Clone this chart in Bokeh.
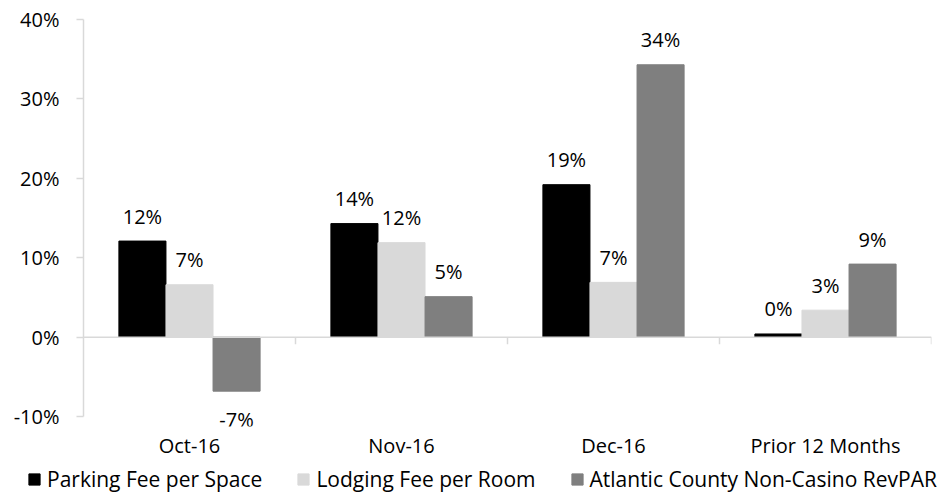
from bokeh.plotting import figure
from bokeh.layouts import column
from bokeh.models import (FactorRange, Range1d, FixedTicker, PrintfTickFormatter,
                          ColumnDataSource, Span, Legend, LegendItem)
from bokeh.transform import dodge
from bokeh.core.properties import value
from bokeh.embed import file_html
from bokeh.resources import INLINE

categories = ["Oct-16", "Nov-16", "Dec-16", "Prior 12 Months"]
series_names = ["Parking Fee per Space", "Lodging Fee per Room",
                "Atlantic County Non-Casino RevPAR"]
parking = [12.1, 14.3, 19.2, 0.4]
lodging = [6.6, 11.9, 6.9, 3.4]
revpar = [-6.8, 5.1, 34.3, 9.2]
y_ticks = [-10, 0, 10, 20, 30, 40]

FONT = "Open Sans"
colors = ["#000000", "#d9d9d9", "#7f7f7f"]
bar_w = 0.222
offsets = [-bar_w, 0.0, bar_w]

p = figure(x_range=FactorRange(*categories), y_range=Range1d(-11.25, 40),
           width=939, height=461, output_backend="svg", toolbar_location=None,
           min_border_left=83, min_border_top=19, min_border_right=8,
           min_border_bottom=32)
p.frame_align = False
p.outline_line_color = None
p.xgrid.visible = False
p.ygrid.visible = False

zero = Span(location=0, dimension="width", line_color="#d9d9d9", line_width=1.5)
p.add_layout(zero)

tick_src = ColumnDataSource(dict(x=categories))
p.segment(x0=dodge("x", 0.5, range=p.x_range), x1=dodge("x", 0.5, range=p.x_range),
          y0=0, y1=-0.9, source=tick_src, line_color="#d9d9d9", line_width=1.5)

sources = []
for name, vals, col, off in zip(series_names, [parking, lodging, revpar], colors, offsets):
    src = ColumnDataSource(dict(x=categories, top=vals))
    sources.append(src)
    p.vbar(x=dodge("x", off, range=p.x_range), top="top", bottom=0, width=bar_w,
           source=src, fill_color=col, line_color=col)
    pos = [(c, v) for c, v in zip(categories, vals) if v >= 0]
    neg = [(c, v) for c, v in zip(categories, vals) if v < 0]
    for group, yoff in ((pos, -25), (neg, 28)):
        if not group:
            continue
        lsrc = ColumnDataSource(dict(
            x=[c for c, _ in group], y=[v for _, v in group],
            label=[f"{round(v)}%" for _, v in group]))
        p.text(x=dodge("x", off, range=p.x_range), y="y", text="label", source=lsrc,
               text_align="center", text_baseline="alphabetic", y_offset=yoff,
               text_font=value(FONT), text_font_size="20px", text_color="#000000")

# y axis
ya = p.yaxis[0]
ya.ticker = FixedTicker(ticks=y_ticks)
ya.formatter = PrintfTickFormatter(format="%d%%")
ya.bounds = (y_ticks[0], y_ticks[-1])
ya.axis_line_color = "#d9d9d9"
ya.axis_line_width = 1.5
ya.major_tick_line_color = "#d9d9d9"
ya.major_tick_line_width = 1.5
ya.major_tick_out = 7
ya.major_tick_in = 0
ya.minor_tick_line_color = None
ya.major_label_standoff = 17
ya.major_label_text_font = FONT
ya.major_label_text_font_size = "20px"
ya.major_label_text_color = "#000000"

# x axis
xa = p.xaxis[0]
xa.axis_line_color = None
xa.major_tick_line_color = None
xa.major_tick_out = 0
xa.major_tick_in = 0
xa.minor_tick_line_color = None
xa.major_label_standoff = 5
xa.major_label_text_font = FONT
xa.major_label_text_font_size = "20px"
xa.major_label_text_color = "#000000"

# legend strip below the chart (its renderers are hidden; only the legend shows)
lg = figure(width=939, height=32, output_backend="svg", toolbar_location=None,
            x_range=FactorRange(*categories), y_range=Range1d(-10, 40),
            x_axis_location=None, y_axis_location=None,
            min_border_left=0, min_border_right=0, min_border_top=0, min_border_bottom=0)
lg.frame_align = False
lg.outline_line_color = None
lg.xgrid.visible = False
lg.ygrid.visible = False
items = []
for name, col, src in zip(series_names, colors, sources):
    r = lg.vbar(x="x", top="top", bottom=0, width=bar_w, source=src,
                fill_color=col, line_color=col, visible=False)
    items.append(LegendItem(label=name, renderers=[r]))
legend = Legend(items=items, orientation="horizontal", location=(27, 0),
                label_text_font=FONT, label_text_font_size="21px",
                label_text_color="#000000",
                glyph_width=14, glyph_height=14, label_standoff=6, spacing=34,
                border_line_color=None, background_fill_alpha=0,
                inactive_fill_alpha=0,
                padding=0, margin=0)
lg.add_layout(legend)

open("out.html", "w").write(file_html(column(p, lg), INLINE))
